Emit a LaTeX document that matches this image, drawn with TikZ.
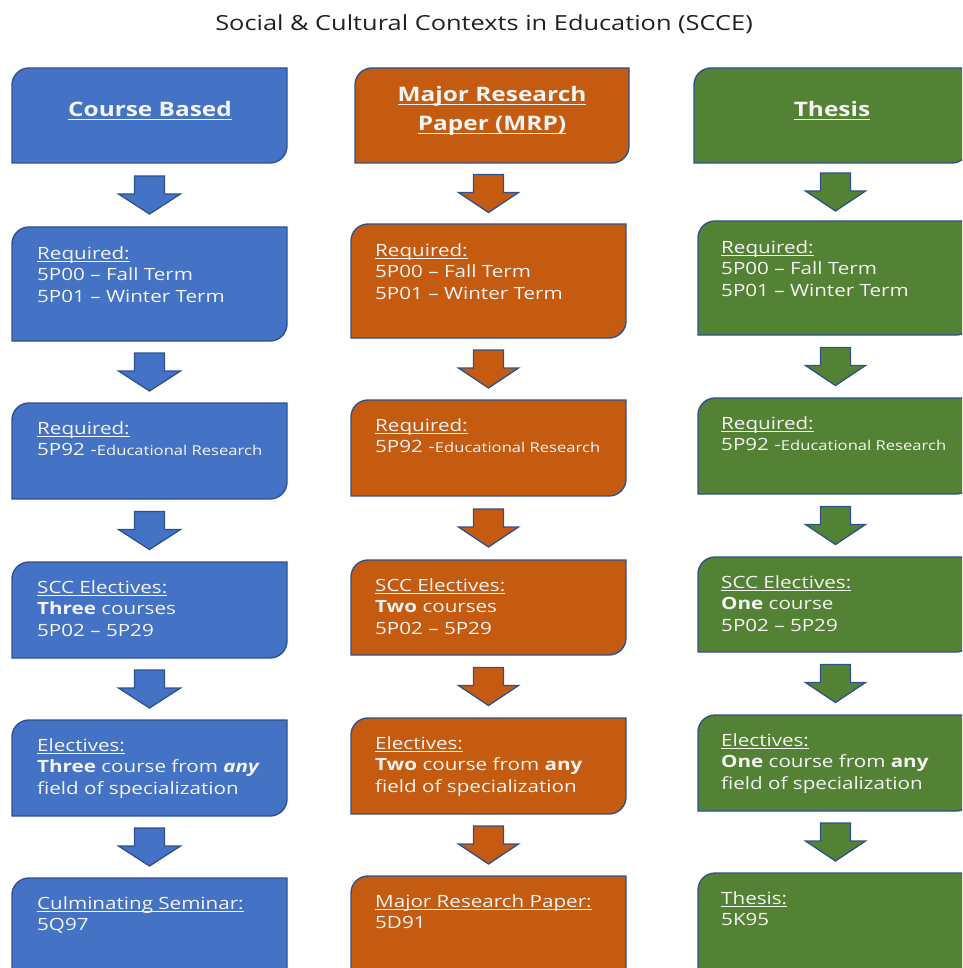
\documentclass[tikz,border=0pt]{standalone}
\usepackage{fontspec}
\setmainfont{Open Sans}
\newfontfamily\bxfont{Open Sans}[FakeStretch=1.22]
\newcommand\ul[1]{\setbox0\hbox{#1}\leavevmode\rlap{\rule[-3pt]{\wd0}{1pt}}\box0}
\usetikzlibrary{calc,fit}
\definecolor{cblue}{HTML}{4472C4}
\definecolor{corange}{HTML}{C55A11}
\definecolor{cgreen}{HTML}{548235}
\definecolor{outl}{HTML}{2F528F}
\definecolor{txt}{HTML}{F4F4F4}
\definecolor{ttl}{HTML}{202020}
\newcommand\rr{17pt}
\tikzset{
  frame/.style={draw=none, fill=none, inner sep=0pt, outer sep=0pt},
  boxshape/.style={draw=outl, line width=1.4pt},
  arrowshape/.style={draw=outl, line width=1.3pt, line join=miter},
  boxtext/.style={anchor=north west, inner sep=0pt, align=left, text=txt,
    font=\bxfont\fontsize{16.9}{21.6}\selectfont},
  headtext/.style={inner sep=0pt, align=center, text=txt,
    font=\bxfont\bfseries\fontsize{20}{29}\selectfont},
}
\newcommand\flowbox[6]{%
  \node[frame, fit={(#2,-#3) (#4,-#5)}] (#1) {};
  \path[boxshape, fill=#6] ([yshift=-\rr]#1.north west)
     arc[start angle=180, end angle=90, radius=\rr] -- (#1.north east)
     -- ([yshift=\rr]#1.south east)
     arc[start angle=0, end angle=-90, radius=\rr] -- (#1.south west) -- cycle;
}
\newcommand\flowarrow[4]{% from, to, colour, head half width
  \path[arrowshape, fill=#3] let \p1=(#1.south), \p2=(#2.north),
     \n1={(\y1+\y2)/2} in
     ({\x2-15pt},{\n1+19pt}) -- ({\x2+15pt},{\n1+19pt}) -- ({\x2+15pt},{\n1+1pt})
     -- ({\x2+#4},{\n1+1pt}) -- (\x2,{\n1-19pt}) -- ({\x2-#4},{\n1+1pt})
     -- ({\x2-15pt},{\n1+1pt}) -- cycle;
}
\newcommand\sm[1]{{\fontsize{13.6}{21.6}\selectfont #1}}
\begin{document}
\begin{tikzpicture}[x=1pt,y=1pt]
\useasboundingbox (0,0) rectangle (962,-968);
\clip (0,0) rectangle (962,-968);
\node[text=ttl, font=\bxfont\fontsize{20.8}{24}\selectfont] (title) at (484,-24)
  {Social \& Cultural Contexts in Education (SCCE)};
% blue column
\flowbox{b1}{12}{68}{287}{163}{cblue}
\flowbox{b2}{12}{227}{287}{341}{cblue}
\flowbox{b3}{12}{403}{287}{499}{cblue}
\flowbox{b4}{12}{562}{287}{658}{cblue}
\flowbox{b5}{12}{720}{287}{816}{cblue}
\flowbox{b6}{12}{878}{287}{1000}{cblue}
% orange column
\flowbox{o1}{355}{68}{629}{163}{corange}
\flowbox{o2}{351}{224}{626}{338}{corange}
\flowbox{o3}{351}{400}{626}{496}{corange}
\flowbox{o4}{351}{560}{626}{655}{corange}
\flowbox{o5}{351}{718}{626}{814}{corange}
\flowbox{o6}{351}{876}{626}{1000}{corange}
% green column
\flowbox{g1}{694}{68}{969}{163}{cgreen}
\flowbox{g2}{698}{221}{973}{335}{cgreen}
\flowbox{g3}{698}{398}{973}{494}{cgreen}
\flowbox{g4}{698}{557}{973}{652}{cgreen}
\flowbox{g5}{698}{715}{973}{811}{cgreen}
\flowbox{g6}{698}{873}{973}{1000}{cgreen}
% arrows
\flowarrow{b1}{b2}{cblue}{31pt}
\flowarrow{b2}{b3}{cblue}{31pt}
\flowarrow{b3}{b4}{cblue}{31pt}
\flowarrow{b4}{b5}{cblue}{31pt}
\flowarrow{b5}{b6}{cblue}{31pt}
\flowarrow{o1}{o2}{corange}{30pt}
\flowarrow{o2}{o3}{corange}{30pt}
\flowarrow{o3}{o4}{corange}{30pt}
\flowarrow{o4}{o5}{corange}{30pt}
\flowarrow{o5}{o6}{corange}{30pt}
\flowarrow{g1}{g2}{cgreen}{30pt}
\flowarrow{g2}{g3}{cgreen}{30pt}
\flowarrow{g3}{g4}{cgreen}{30pt}
\flowarrow{g4}{g5}{cgreen}{30pt}
\flowarrow{g5}{g6}{cgreen}{30pt}
% headers
\node[headtext] (hb) at (150,-110.5) {\ul{Course Based}};
\node[headtext] (ho) at (492,-111) {\ul{Major Research}\\\ul{Paper (MRP)}};
\node[headtext] (hg) at (832,-110.5) {\ul{Thesis}};
% blue texts
\node[boxtext] (tb2) at ($(b2.north west)+(25,-19)$) {\ul{Required:}\\5P00 – Fall Term\\5P01 – Winter Term};
\node[boxtext] (tb3) at ($(b3.north west)+(25,-18)$) {\ul{Required:}\\5P92 -\sm{Educational Research}};
\node[boxtext] (tb4) at ($(b4.north west)+(25,-18)$) {\ul{SCC Electives:}\\\textbf{Three} courses\\5P02 – 5P29};
\node[boxtext] (tb5) at ($(b5.north west)+(25,-18)$) {\ul{Electives:}\\\textbf{Three} course from \textbf{\textit{any}}\\field of specialization};
\node[boxtext] (tb6) at ($(b6.north west)+(25,-18)$) {\ul{Culminating Seminar:}\\5Q97};
% orange texts
\node[boxtext] (to2) at ($(o2.north west)+(24,-19)$) {\ul{Required:}\\5P00 – Fall Term\\5P01 – Winter Term};
\node[boxtext] (to3) at ($(o3.north west)+(24,-18)$) {\ul{Required:}\\5P92 -\sm{Educational Research}};
\node[boxtext] (to4) at ($(o4.north west)+(24,-18)$) {\ul{SCC Electives:}\\\textbf{Two} courses\\5P02 – 5P29};
\node[boxtext] (to5) at ($(o5.north west)+(24,-18)$) {\ul{Electives:}\\\textbf{Two} course from \textbf{any}\\field of specialization};
\node[boxtext] (to6) at ($(o6.north west)+(24,-18)$) {\ul{Major Research Paper:}\\5D91};
% green texts
\node[boxtext] (tg2) at ($(g2.north west)+(23,-19)$) {\ul{Required:}\\5P00 – Fall Term\\5P01 – Winter Term};
\node[boxtext] (tg3) at ($(g3.north west)+(23,-18)$) {\ul{Required:}\\5P92 -\sm{Educational Research}};
\node[boxtext] (tg4) at ($(g4.north west)+(23,-18)$) {\ul{SCC Electives:}\\\textbf{One} course\\5P02 – 5P29};
\node[boxtext] (tg5) at ($(g5.north west)+(23,-18)$) {\ul{Electives:}\\\textbf{One} course from \textbf{any}\\field of specialization};
\node[boxtext] (tg6) at ($(g6.north west)+(23,-18)$) {\ul{Thesis:}\\5K95};
\end{tikzpicture}
\end{document}
